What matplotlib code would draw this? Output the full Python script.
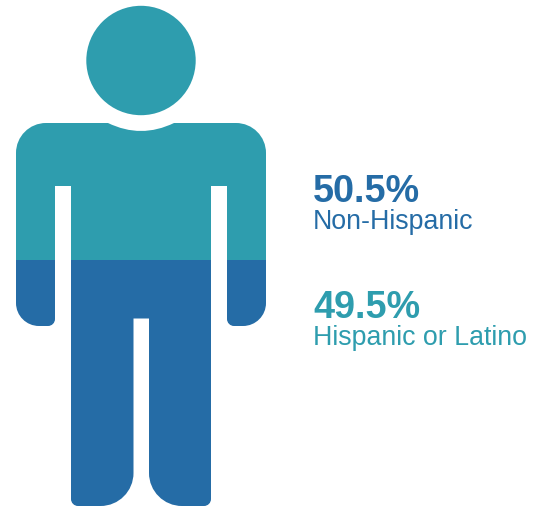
import matplotlib
matplotlib.use("Agg")
import matplotlib.pyplot as plt
from matplotlib.path import Path
from matplotlib.patches import PathPatch, Circle, Rectangle

categories = ["Non-Hispanic", "Hispanic or Latino"]
shares = [50.5, 49.5]
share_labels = ["50.5%", "49.5%"]
fill_share = 49.2  # lower, dark part of the figure as drawn in the reference

TEAL = "#2E9DAE"
BLUE = "#256CA6"

plt.rcParams["font.family"] = ["Liberation Sans", "DejaVu Sans"]

fig = plt.figure(figsize=(5.40, 5.08), dpi=100)
ax = fig.add_axes([0, 0, 1, 1])
ax.set_xlim(0, 540)
ax.set_ylim(508, 0)
ax.axis("off")

# Pictogram outline: (x, y, corner radius)
FIG_TOP, FIG_BOTTOM = 6.0, 506.0
outline = [
    (16, 123, 30), (108, 123, 0), ("neck",), (174, 123, 0), (266, 123, 30),
    (266, 326, 23), (227, 326, 7), (227, 186, 0), (211, 186, 0),
    (211, 506, 7), (149, 506, 33), (149, 318.5, 0), (133.5, 318.5, 0),
    (133.5, 506, 33), (71, 506, 7), (71, 186, 0), (55, 186, 0),
    (55, 326, 7), (16, 326, 23),
]
KAPPA = 0.5523


def build_path(points):
    """Walk the outline and round each corner with a cubic curve."""
    verts, codes = [], []
    n = len(points)

    def unit(a, b):
        dx, dy = b[0] - a[0], b[1] - a[1]
        d = (dx * dx + dy * dy) ** 0.5
        return dx / d, dy / d

    for i, p in enumerate(points):
        if p[0] == "neck":
            verts += [(141, 139), (174, 123)]
            codes += [Path.CURVE3, Path.CURVE3]
            continue
        if i > 0 and points[i - 1][0] == "neck":
            continue
        prev = points[i - 1] if points[i - 1][0] != "neck" else points[i - 2]
        nxt = points[(i + 1) % n]
        if nxt[0] == "neck":
            verts.append((p[0], p[1]))
            codes.append(Path.LINETO)
            continue
        r = p[2]
        if r == 0:
            verts.append((p[0], p[1]))
            codes.append(Path.LINETO if codes else Path.MOVETO)
            continue
        u1 = unit(p, prev)
        u2 = unit(p, nxt)
        a = (p[0] + u1[0] * r, p[1] + u1[1] * r)
        b = (p[0] + u2[0] * r, p[1] + u2[1] * r)
        c1 = (a[0] - u1[0] * r * KAPPA, a[1] - u1[1] * r * KAPPA)
        c2 = (b[0] - u2[0] * r * KAPPA, b[1] - u2[1] * r * KAPPA)
        verts.append(a)
        codes.append(Path.LINETO if codes else Path.MOVETO)
        verts += [c1, c2, b]
        codes += [Path.CURVE4] * 3
    verts.append(verts[0])
    codes.append(Path.CLOSEPOLY)
    return Path(verts, codes)


body = build_path(outline)
split_y = FIG_BOTTOM - (FIG_BOTTOM - FIG_TOP) * fill_share / 100

for color, y0, y1 in [(TEAL, 0, split_y), (BLUE, split_y, 508)]:
    patch = PathPatch(body, facecolor=color, edgecolor="none", zorder=2)
    ax.add_patch(patch)
    clip = Rectangle((0, y0), 540, y1 - y0, transform=ax.transData)
    patch.set_clip_path(clip)

ax.add_patch(Circle((141, 60.5), 54.7, facecolor=TEAL, edgecolor="none", zorder=2))

# Labels
label_colors = [BLUE, TEAL]
value_y = [202.5, 318]
name_y = [229, 345]
for label, name, c, vy, ny in zip(share_labels, categories, label_colors, value_y, name_y):
    ax.text(313, vy, label, color=c, fontsize=27.2, fontweight="bold",
            ha="left", va="baseline")
    ax.text(313, ny, name, color=c, fontsize=19.25, ha="left", va="baseline")

fig.savefig("out.png", dpi=100, facecolor="white")
